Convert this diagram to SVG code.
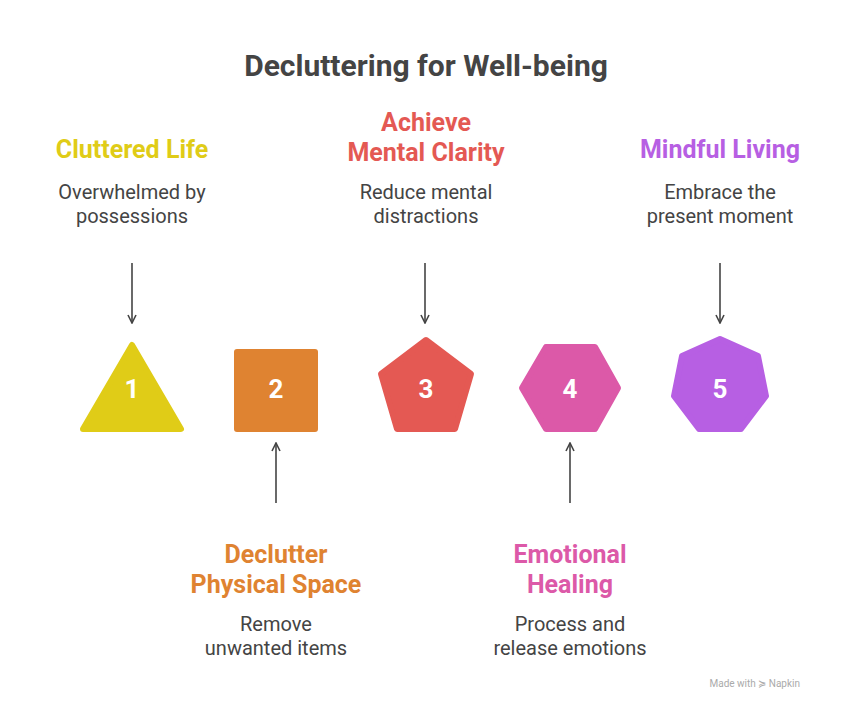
<svg xmlns="http://www.w3.org/2000/svg" width="852" height="708" viewBox="0 0 852 708">
<defs>
<style>
.t{font-family:Roboto,"Liberation Sans",sans-serif;font-weight:700;font-size:30px;fill:#444;text-anchor:middle}
.h{font-family:Roboto,"Liberation Sans",sans-serif;font-weight:700;font-size:25px;text-anchor:middle}
.b{font-family:Roboto,"Liberation Sans",sans-serif;font-size:20px;fill:#444;text-anchor:middle}
.n{font-family:Roboto,"Liberation Sans",sans-serif;font-weight:700;font-size:26px;fill:#fff;text-anchor:middle}
.c{stroke:#444;stroke-width:1.6;fill:none;marker-end:url(#a)}
.s{stroke-linejoin:round;stroke-width:6}
</style>
<marker id="a" viewBox="0 0 10 10" refX="9" refY="5" markerWidth="10" markerHeight="10" markerUnits="userSpaceOnUse" orient="auto"><path d="M1,1 L9,5 L1,9" fill="none" stroke="#444" stroke-width="1.6"/></marker>
</defs>
<rect width="852" height="708" fill="#fff"/>
<text class="t" x="426" y="76">Decluttering for Well-being</text>
<g id="connectors">
<path class="c" d="M132,263 V323"/>
<path class="c" d="M425,263 V323"/>
<path class="c" d="M720,263 V323"/>
<path class="c" d="M276,503 V443"/>
<path class="c" d="M570,503 V443"/>
</g>
<g id="n1">
<polygon class="s" points="132,345 181,429 83,429" fill="#e0cc17" stroke="#e0cc17"/>
<text class="n" x="132" y="398">1</text>
<text class="h" x="132" y="158" fill="#e0cc17">Cluttered Life</text>
<text class="b" x="132" y="199">Overwhelmed by</text>
<text class="b" x="132" y="223">possessions</text>
</g>
<g id="n2">
<rect x="234" y="349" width="84" height="83" rx="3" fill="#df8331"/>
<text class="n" x="276" y="398">2</text>
<text class="h" x="276" y="563" fill="#df8331">Declutter</text>
<text class="h" x="276" y="593" fill="#df8331">Physical Space</text>
<text class="b" x="276" y="631">Remove</text>
<text class="b" x="276" y="655">unwanted items</text>
</g>
<g id="n3">
<polygon class="s" points="426,340 471,374 455,429 397,429 381,374" fill="#e45953" stroke="#e45953"/>
<text class="n" x="426" y="398">3</text>
<text class="h" x="426" y="131" fill="#e45953">Achieve</text>
<text class="h" x="426" y="161" fill="#e45953">Mental Clarity</text>
<text class="b" x="426" y="199">Reduce mental</text>
<text class="b" x="426" y="223">distractions</text>
</g>
<g id="n4">
<polygon class="s" points="546,347 595,347 618,388 595,429 546,429 522,388" fill="#dc59a8" stroke="#dc59a8"/>
<text class="n" x="570" y="398">4</text>
<text class="h" x="570" y="563" fill="#dc59a8">Emotional</text>
<text class="h" x="570" y="593" fill="#dc59a8">Healing</text>
<text class="b" x="570" y="631">Process and</text>
<text class="b" x="570" y="655">release emotions</text>
</g>
<g id="n5">
<polygon class="s" points="720,339 758,356 766,396 741,429 699,429 674,396 682,356" fill="#b75fe3" stroke="#b75fe3"/>
<text class="n" x="720" y="398">5</text>
<text class="h" x="720" y="158" fill="#b75fe3">Mindful Living</text>
<text class="b" x="720" y="199">Embrace the</text>
<text class="b" x="720" y="223">present moment</text>
</g>
<text x="800" y="687" font-family="Roboto,'Liberation Sans',sans-serif" font-size="10" fill="#aaa" text-anchor="end">Made with ≽ Napkin</text>
</svg>
